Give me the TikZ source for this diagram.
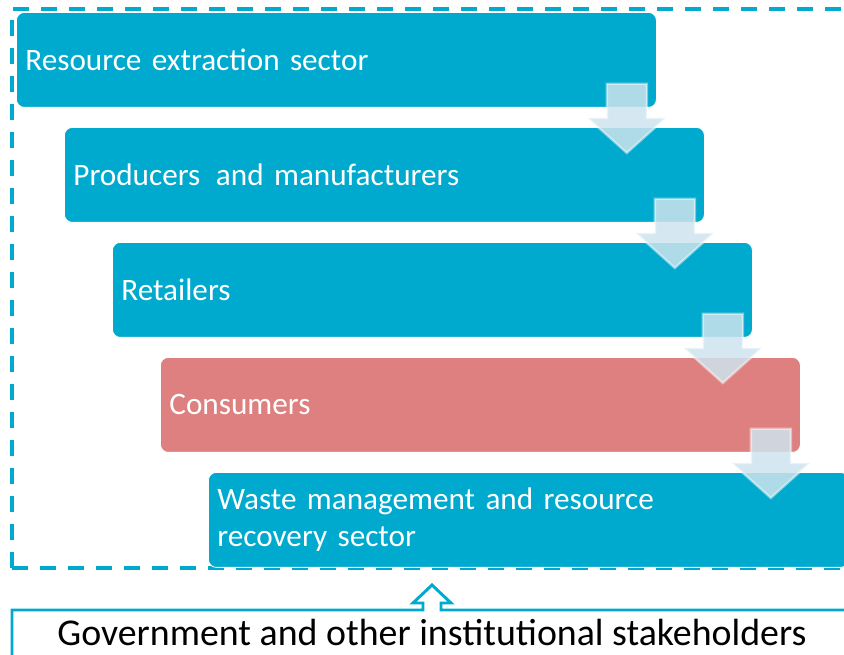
\documentclass[tikz,border=0pt]{standalone}
\usepackage{fontspec}
\setmainfont{Carlito}
\usetikzlibrary{calc}
\definecolor{scyan}{RGB}{0,170,206}
\definecolor{spink}{RGB}{222,128,128}
\definecolor{sarrow}{RGB}{206,228,238}
\tikzset{
  stage/.style    = {fill=scyan, draw=white, line width=0.6pt, rounded corners=6pt,
                     anchor=north west, minimum width=480pt, minimum height=71.25pt,
                     inner xsep=6.75pt, text width=466.5pt, align=left,
                     text=white, font=\fontsize{23.4}{27.75}\selectfont},
  flowarrow/.style = {fill=sarrow, fill opacity=0.85, draw=white, draw opacity=0.45,
                     line width=1.8pt, line join=miter},
  frame/.style    = {draw=scyan, line width=3pt, dash pattern=on 12pt off 9pt},
  bracket/.style  = {draw=scyan, line width=2.2pt, line join=miter},
}

\begin{document}
\begin{tikzpicture}[x=0.75pt,y=-0.75pt]
\useasboundingbox (0,0) rectangle (844,655);
% dashed frame round the chain, open to the right
\draw[frame] (12,568) -- (12,9) -- (870,9);
\draw[frame] (12,568) -- (870,568);
% the five stages, each one step right and down
\node[stage] (extract) at (16,12)  {Resource extraction sector};
\node[stage] (produce) at (64,127) {Producers\, and manufacturers};
\node[stage] (retail)  at (112,242) {Retailers};
\node[stage,fill=spink] (consume) at (160,357) {Consumers};
\node[stage] (waste)   at (208,472) {Waste management and resource\\recovery sector};
% block arrows from one stage to the next
\foreach \a/\b in {extract/produce,produce/retail,retail/consume,consume/waste}{
  \coordinate (shaft) at ($(\a.south east)+(-30,-24)$);
  \coordinate (tip)   at ($(shaft |- \b.north)+(0,26)$);
  \coordinate (head)  at ($(shaft |- \b.north)+(0,-9)$);
  \path[flowarrow] ($(shaft)+(-20,0)$) -- ($(shaft)+(20,0)$) -- ($(head)+(20,0)$)
    -- ($(head)+(39,0)$) -- (tip) -- ($(head)+(-39,0)$) -- ($(head)+(-20,0)$) -- cycle;
}
% stakeholders below, with an open arrow up into the frame
\node[anchor=base,inner sep=0pt] (gov) at (432,646) {\fontsize{28.4}{32}\selectfont Government and other institutional stakeholders};
\coordinate (up) at (432,585);
\draw[bracket] (12,660) -- (12,610) -- ($(up)+(-9,25)$) -- ($(up)+(-9,18)$) -- ($(up)+(-19,18)$)
  -- (up) -- ($(up)+(19,18)$) -- ($(up)+(9,18)$) -- ($(up)+(9,25)$) -- (870,610);
\end{tikzpicture}
\end{document}
